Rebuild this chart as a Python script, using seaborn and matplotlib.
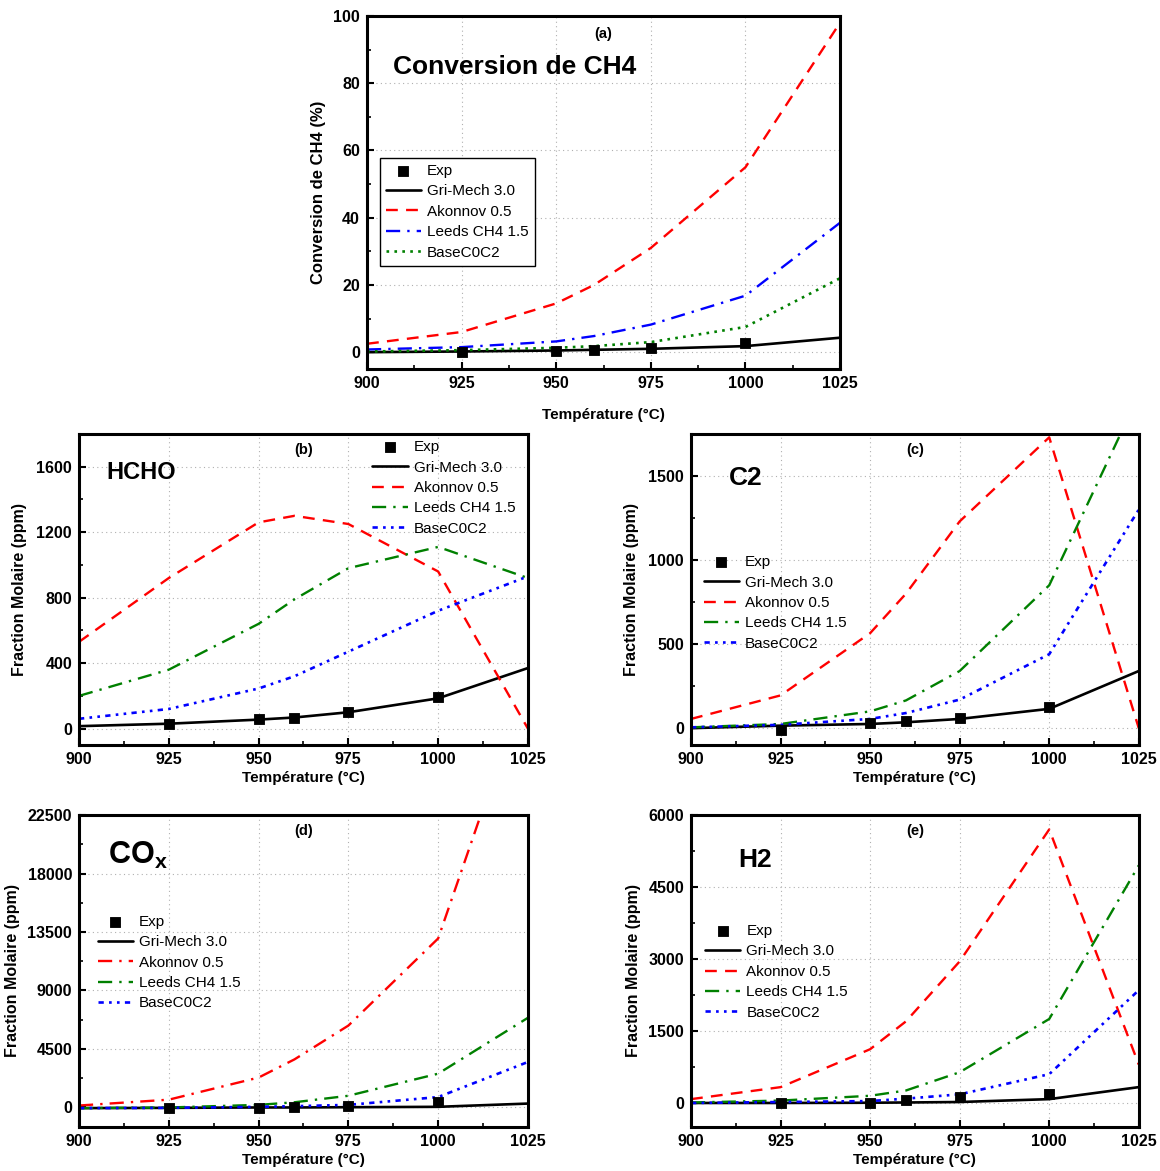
import numpy as np
import matplotlib
matplotlib.use("Agg")
import matplotlib.pyplot as plt
from matplotlib.ticker import MultipleLocator
import seaborn as sns

# temperatures
T_sim = [900, 925, 950, 960, 975, 1000, 1025]
T_exp = [925, 950, 960, 975, 1000]

# (a) conversion de CH4 (%)
a_exp = [0.0, 0.3, 0.5, 1.3, 2.8]
a_gri = [0.0, 0.2, 0.5, 0.7, 1.0, 1.8, 4.3]
a_ako = [2.5, 6.0, 14.5, 20.0, 31.0, 55.0, 98.0]
a_lee = [0.8, 1.5, 3.2, 4.8, 8.2, 16.8, 38.5]
a_bas = [0.2, 0.6, 1.3, 1.8, 3.0, 7.5, 22.0]

# (b) HCHO (ppm)
b_exp = [30, 60, 65, 100, 195]
b_gri = [15, 30, 55, 68, 100, 185, 370]
b_ako = [530, 920, 1260, 1300, 1250, 960, 0]
b_lee = [200, 360, 640, 790, 980, 1110, 920]
b_bas = [60, 120, 245, 320, 470, 720, 930]

# (c) C2 (ppm)
c_exp = [-10, 30, 45, 60, 125]
c_gri = [0, 15, 25, 35, 55, 115, 340]
c_ako = [55, 195, 565, 800, 1230, 1730, 0]
c_lee = [5, 25, 100, 165, 340, 850, 1980]
c_bas = [5, 20, 55, 90, 170, 440, 1300]

# (d) COx (ppm)
d_exp = [-50, -50, 0, 150, 400]
d_gri = [-50, -30, 0, 0, 20, 50, 300]
d_ako = [150, 600, 2300, 3700, 6300, 13000, 33000]
d_lee = [-50, 0, 200, 400, 900, 2600, 6900]
d_bas = [-50, -30, 50, 100, 200, 800, 3500]

# (e) H2 (ppm)
e_exp = [0, 0, 70, 120, 190]
e_gri = [0, 0, 5, 10, 20, 80, 330]
e_ako = [80, 330, 1120, 1700, 2950, 5700, 800]
e_lee = [10, 50, 150, 260, 640, 1750, 4950]
e_bas = [0, 20, 40, 90, 180, 600, 2350]

labels = ["Exp", "Gri-Mech 3.0", "Akonnov 0.5", "Leeds CH4 1.5", "BaseC0C2"]

sns.set_theme(style="ticks")
plt.rcParams['font.family'] = ['Liberation Sans', 'DejaVu Sans']
plt.rcParams['mathtext.fontset'] = 'custom'
plt.rcParams['mathtext.rm'] = 'Liberation Sans'
plt.rcParams['mathtext.bf'] = 'Liberation Sans:bold'
for k in ['text.color', 'axes.labelcolor', 'xtick.color', 'ytick.color']:
    plt.rcParams[k] = 'black'

fig = plt.figure(figsize=(11.6, 11.71), dpi=100)

dash_long = (0, (5, 3.5))
dashdot = (0, (6, 3, 1, 3))
dotted = (0, (1, 2))
dashdotdot = (0, (2, 2, 1, 2, 1, 2))


def panel(rect, exp, gri, ako, lee, bas, ylim, ystep, ylabel, letter,
          title, title_pos, title_size, leg_anchor, styles, framed=False,
          xpad=3, ypad=3, ysize=11.5):
    ax = fig.add_axes(rect)
    sns.lineplot(x=T_sim, y=gri, ax=ax, color="black", lw=1.9, label=labels[1])
    sns.lineplot(x=T_sim, y=ako, ax=ax, color=styles[0][0], lw=1.7,
                 linestyle=styles[0][1], label=labels[2])
    sns.lineplot(x=T_sim, y=lee, ax=ax, color=styles[1][0], lw=1.7,
                 linestyle=styles[1][1], label=labels[3])
    sns.lineplot(x=T_sim, y=bas, ax=ax, color=styles[2][0], lw=1.9,
                 linestyle=styles[2][1], label=labels[4])
    sns.scatterplot(x=T_exp, y=exp, ax=ax, color="black", marker="s", s=60,
                    edgecolor="black", zorder=5, label=labels[0])
    ax.set_xlim(900, 1025)
    ax.set_ylim(*ylim)
    ax.xaxis.set_major_locator(MultipleLocator(25))
    ax.xaxis.set_minor_locator(MultipleLocator(12.5))
    ax.yaxis.set_major_locator(MultipleLocator(ystep))
    ax.yaxis.set_minor_locator(MultipleLocator(ystep / 2))
    ax.tick_params(which="both", direction="in", top=False, right=False)
    ax.tick_params(which="major", length=5, width=1.5, labelsize=11.5, pad=5)
    ax.tick_params(which="minor", length=3, width=1.2)
    for lab in ax.get_xticklabels() + ax.get_yticklabels():
        lab.set_fontweight("bold")
    for sp in ax.spines.values():
        sp.set_linewidth(2.2)
        sp.set_color("black")
    ax.grid(True, which="major", color="#b0b0b0", linestyle=(0, (1, 3)), lw=0.8)
    ax.set_xlabel("Température (°C)", fontsize=11, fontweight="bold", labelpad=xpad)
    ax.set_ylabel(ylabel, fontsize=ysize, fontweight="bold", labelpad=ypad)
    ax.text(0.5, 0.95, letter, transform=ax.transAxes,
            ha="center", va="center", fontsize=10.5, fontweight="bold")
    ax.text(title_pos[0], title_pos[1], title, transform=ax.transAxes,
            ha="left", va="center", fontsize=title_size, fontweight="bold")
    h, l = ax.get_legend_handles_labels()
    order = [4, 0, 1, 2, 3]
    leg = ax.legend([h[i] for i in order], [l[i] for i in order],
                    loc="upper left", bbox_to_anchor=leg_anchor, borderaxespad=0,
                    frameon=framed, fontsize=11, handlelength=2.3,
                    handletextpad=0.4, labelspacing=0.42, borderpad=0.4,
                    fancybox=False)
    if framed:
        leg.get_frame().set_edgecolor("black")
        leg.get_frame().set_linewidth(1.0)
        leg.get_frame().set_alpha(1)
    return ax


panel([0.3164, 0.6849, 0.4078, 0.3015], a_exp, a_gri, a_ako, a_lee, a_bas,
      (-5, 100), 20, "Conversion de CH4 (%)", "(a)",
      "Conversion de CH4", (0.055, 0.855), 19, (0.027, 0.598),
      [("red", dash_long), ("blue", dashdot), ("green", dotted)], framed=True,
      xpad=12, ypad=5, ysize=12)

panel([0.0681, 0.3638, 0.3870, 0.2656], b_exp, b_gri, b_ako, b_lee, b_bas,
      (-100, 1800), 400, "Fraction Molaire (ppm)", "(b)",
      "HCHO", (0.06, 0.875), 17, (0.64, 1.0),
      [("red", dash_long), ("green", dashdot), ("blue", dashdotdot)], ypad=7)

panel([0.5957, 0.3638, 0.3860, 0.2656], c_exp, c_gri, c_ako, c_lee, c_bas,
      (-100, 1750), 500, "Fraction Molaire (ppm)", "(c)",
      "C2", (0.085, 0.86), 19, (0.015, 0.63),
      [("red", dash_long), ("green", dashdot), ("blue", dashdotdot)], ypad=7)

panel([0.0681, 0.0376, 0.3870, 0.2664], d_exp, d_gri, d_ako, d_lee, d_bas,
      (-1500, 22500), 4500, "Fraction Molaire (ppm)", "(d)",
      r"CO$_\mathbf{x}$", (0.065, 0.87), 22, (0.028, 0.70),
      [("red", dashdot), ("green", dashdot), ("blue", dashdotdot)], ypad=5)

panel([0.5957, 0.0376, 0.3860, 0.2664], e_exp, e_gri, e_ako, e_lee, e_bas,
      (-500, 6000), 1500, "Fraction Molaire (ppm)", "(e)",
      "H2", (0.105, 0.856), 19, (0.018, 0.67),
      [("red", dash_long), ("green", dashdot), ("blue", dashdotdot)], ypad=5)

fig.savefig("out.png", dpi=100)
